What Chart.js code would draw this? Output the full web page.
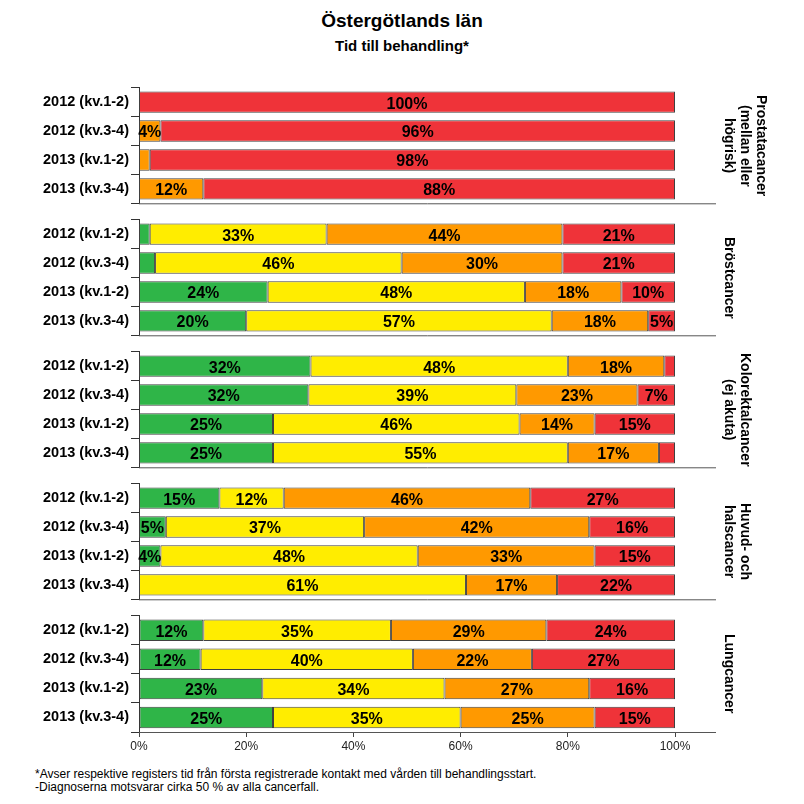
<!DOCTYPE html>
<html>
<head>
<meta charset="utf-8">
<title>Östergötlands län</title>
<script src="https://cdn.jsdelivr.net/npm/chart.js@4.4.1/dist/chart.umd.min.js"></script>
<style>
	body { margin: 0; background: #fff; font-family: 'Liberation Sans', Arial, sans-serif; }
	#page { position: relative; width: 804px; height: 804px; overflow: hidden; background: #fff; }
	.title { position: absolute; left: 0; width: 804px; text-align: center; font-weight: bold; color: #000; }
	.panel { position: absolute; left: 0; }
	.panel-name { position: absolute; left: 722px; height: 117px; writing-mode: vertical-rl; text-align: center;
		font-weight: bold; font-size: 14px; line-height: 16px; color: #000; }
	.note { position: absolute; left: 35px; top: 768px; font-size: 12px; line-height: 13px; color: #000; }
</style>
</head>
<body>
<div id="page">
	<div class="title" style="top:10px;font-size:19px;line-height:22px;">Östergötlands län</div>
	<div class="title" style="top:37px;font-size:15px;line-height:18px;">Tid till behandling*</div>
	<div class="note">*Avser respektive registers tid från första registrerade kontakt med vården till behandlingsstart.<br>-Diagnoserna motsvarar cirka 50 % av alla cancerfall.</div>
</div>
<script>
	var periods = ['2012 (kv.1-2)', '2012 (kv.3-4)', '2013 (kv.1-2)', '2013 (kv.3-4)'];
	var diagnoses = [
		['Prostatacancer', '(mellan eller', 'högrisk)'],
		['Bröstcancer'],
		['Kolorektalcancer', '(ej akuta)'],
		['Huvud- och', 'halscancer'],
		['Lungcancer']
	];
	var xTicks = [0, 20, 40, 60, 80, 100];

	// percent per period, 4 rows per diagnosis in the order above
	var green  = [0, 0, 0, 0,      2, 3, 24, 20,   32, 31.6, 25, 25,   15, 5, 4, 0,    12, 11.5, 23, 25];
	var yellow = [0, 0, 0, 0,      33, 46, 48, 57, 48, 38.8, 46, 55,   12, 37, 48, 61, 35, 39.6, 34, 35];
	var orange = [0, 4, 2, 12,     44, 30, 18, 18, 18, 22.6, 14, 17,   46, 42, 33, 17, 29, 22.2, 27, 25];
	var red    = [100, 96, 98, 88, 21, 21, 10, 5,  2, 7, 15, 3,        27, 16, 15, 22, 24, 26.7, 16, 15];

	var seriesColors = ['#2fb548', '#ffed00', '#ff9900', '#ef3339'];

	Chart.defaults.font.family = "'Liberation Sans', Arial, sans-serif";

	/**
	 * percent labels inside the segments
	 */
	var segmentLabels = {
		id: 'segmentLabels',
		afterDatasetsDraw: function(chart) {
			var ctx = chart.ctx;
			ctx.save();
			ctx.font = 'bold 16px "Liberation Sans", Arial, sans-serif';
			ctx.fillStyle = '#000';
			ctx.textAlign = 'center';
			ctx.textBaseline = 'middle';
			chart.data.datasets.forEach(function(ds, i) {
				chart.getDatasetMeta(i).data.forEach(function(bar, j) {
					var v = ds.data[j];
					if (v < 4) {
						return;
					}
					ctx.fillText(Math.round(v) + '%', (bar.x + bar.base) / 2, bar.y + 2);
				});
			});
			ctx.restore();
		}
	};

	/**
	 * rule under each panel, runs on past the bars
	 */
	var panelRule = {
		id: 'panelRule',
		afterDraw: function(chart) {
			var a = chart.chartArea;
			var ctx = chart.ctx;
			ctx.save();
			ctx.strokeStyle = '#555';
			ctx.lineWidth = 1;
			ctx.beginPath();
			ctx.moveTo(a.left, a.bottom + 0.5);
			ctx.lineTo(a.right + 41, a.bottom + 0.5);
			ctx.stroke();
			ctx.restore();
		}
	};

	var page = document.getElementById('page');

	var buildPanel = function(k) {
		var isLast = k === diagnoses.length - 1;
		var top = 87 + 132 * k;
		var pad = 10;
		var height = isLast ? pad + 117 + 30 : 117 + 2 * pad;

		var canvas = document.createElement('canvas');
		canvas.className = 'panel';
		canvas.width = 804;
		canvas.height = height;
		canvas.style.top = (top - pad) + 'px';
		page.appendChild(canvas);

		var name = document.createElement('div');
		name.className = 'panel-name';
		name.style.top = top + 'px';
		name.innerHTML = diagnoses[k].join('<br>');
		page.appendChild(name);

		var rows = function(arr) {
			return arr.slice(k * 4, k * 4 + 4);
		};

		var datasets = [green, yellow, orange, red].map(function(arr, i) {
			return {
				data: rows(arr),
				backgroundColor: seriesColors[i],
				borderColor: '#404040',
				borderWidth: 1,
				borderSkipped: false,
				barPercentage: 0.74,
				categoryPercentage: 1
			};
		});

		var xScale = {
			display: isLast,
			stacked: true,
			min: 0,
			max: 100,
			afterBuildTicks: function(scale) {
				scale.ticks = xTicks.map(function(v) { return { value: v }; });
			},
			ticks: {
				color: '#222',
				font: { size: 12 },
				padding: 2,
				maxRotation: 0,
				callback: function(v) { return v + '%'; }
			},
			grid: { drawOnChartArea: false, tickLength: 5, color: '#444' },
			border: { color: '#444' }
		};
		if (isLast) {
			xScale.afterFit = function(scale) { scale.height = 30; };
		}

		new Chart(canvas, {
			type: 'bar',
			data: { labels: periods, datasets: datasets },
			options: {
				indexAxis: 'y',
				responsive: false,
				animation: false,
				layout: { padding: { top: pad, right: 129, bottom: isLast ? 0 : pad, left: 0 } },
				plugins: { legend: { display: false }, tooltip: { enabled: false } },
				scales: {
					x: xScale,
					y: {
						stacked: true,
						afterFit: function(scale) { scale.width = 139; },
						ticks: { color: '#000', font: { size: 14.5, weight: 'bold' }, padding: 2 },
						grid: { drawOnChartArea: false, tickLength: 8, color: '#333' },
						border: { color: '#333' }
					}
				}
			},
			plugins: [segmentLabels, panelRule]
		});
	};

	diagnoses.forEach(function(d, k) {
		buildPanel(k);
	});
</script>
</body>
</html>
